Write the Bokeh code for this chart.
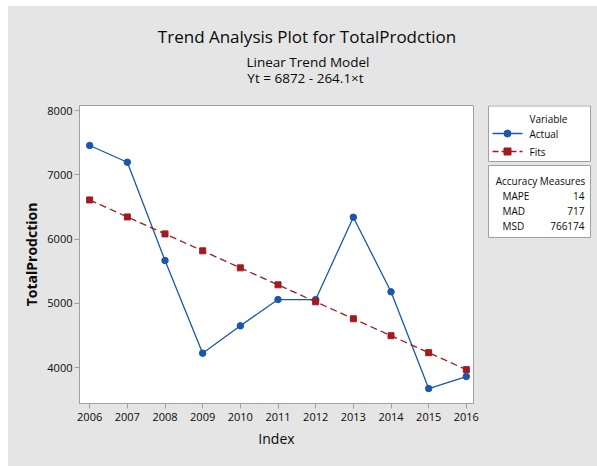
from bokeh.plotting import figure
from bokeh.layouts import column, row
from bokeh.models import FixedTicker, Range1d, ColumnDataSource, Spacer
from bokeh.core.properties import value
from bokeh.embed import file_html
from bokeh.resources import INLINE

# ---- data ----
years = [2006, 2007, 2008, 2009, 2010, 2011, 2012, 2013, 2014, 2015, 2016]
actual = [7455, 7195, 5665, 4223, 4649, 5058, 5058, 6339, 5178, 3673, 3860]
fits = [6608, 6344, 6080, 5816, 5551, 5287, 5023, 4759, 4495, 4231, 3967]
y_ticks = [4000, 5000, 6000, 7000, 8000]
title_text = "Trend Analysis Plot for TotalProdction"
subtitle_text = "Linear Trend Model"
equation_text = "Yt = 6872 - 264.1\u00d7t"
legend_title = "Variable"
series_names = ["Actual", "Fits"]
accuracy_title = "Accuracy Measures"
accuracy_names = ["MAPE", "MAD", "MSD"]
accuracy_values = ["14", "717", "766174"]

# ---- styles ----
FONT = "Open Sans"
BG = "#e4e5e4"
BLUE = "#1a57a8"
RED = "#a01b1f"
GREY = "#a0a0a0"
TXT = "#0a0a0a"

# picture layout (pixels)
LEFT_GAP, TOP_GAP = 8, 6
TITLE_BOTTOM = 100
TOTAL_W, TOTAL_H = 597, 466
SPLIT_X = 480
FL, FR, FT, FB = 79, 473, 105, 403


def canvas_fig(x0, x1, y0, y1, top=0, bottom=0):
    f = figure(width=x1 - x0, height=y1 - y0, output_backend="svg",
               toolbar_location=None, title=None,
               x_range=Range1d(x0, x1), y_range=Range1d(y1 - bottom, y0 + top),
               x_axis_type=None, y_axis_type=None,
               min_border=0, min_border_left=0, min_border_right=0,
               min_border_top=top, min_border_bottom=bottom)
    f.border_fill_color = BG
    f.background_fill_color = BG
    f.outline_line_color = None
    f.grid.visible = False
    return f


# ---- title strip ----
tf = canvas_fig(LEFT_GAP, TOTAL_W, TOP_GAP, TITLE_BOTTOM)
tf.text(x=[306.5], y=[35.5], text=[title_text], text_align="center",
        text_baseline="middle", text_font=value(FONT),
        text_font_size="17px", text_color=TXT)
tf.text(x=[307.5, 305], y=[61, 77.5], text=[subtitle_text, equation_text],
        text_align="center", text_baseline="middle", text_font=value(FONT),
        text_font_size="13.5px", text_color=TXT)

# ---- main plot ----
X0, X1 = 2005.73, 2016.19
Y0, Y1 = 3440, 8078
p = figure(width=SPLIT_X - LEFT_GAP, height=TOTAL_H - TITLE_BOTTOM,
           output_backend="svg", toolbar_location=None, title=None,
           x_range=Range1d(X0, X1), y_range=Range1d(Y0, Y1),
           min_border_left=FL - LEFT_GAP, min_border_right=SPLIT_X - FR,
           min_border_top=FT - TITLE_BOTTOM, min_border_bottom=TOTAL_H - FB)
p.border_fill_color = BG
p.background_fill_color = "white"
p.outline_line_color = GREY
p.grid.visible = False

p.xaxis.ticker = FixedTicker(ticks=years)
p.yaxis.ticker = FixedTicker(ticks=y_ticks)
for ax in (p.xaxis[0], p.yaxis[0]):
    ax.axis_line_color = GREY
    ax.major_tick_line_color = GREY
    ax.minor_tick_line_color = None
    ax.major_tick_in = 0
    ax.major_tick_out = 5
    ax.major_label_text_font = FONT
    ax.major_label_text_font_size = "11px"
    ax.major_label_text_color = TXT
    ax.axis_label_text_font = FONT
    ax.axis_label_text_color = TXT
p.xaxis.major_label_standoff = 4
p.yaxis.major_label_standoff = 2
p.xaxis.axis_label = "Index"
p.xaxis.axis_label_text_font_size = "14px"
p.xaxis.axis_label_text_font_style = "normal"
p.xaxis.axis_label_standoff = 5
p.yaxis.axis_label = "TotalProdction"
p.yaxis.axis_label_text_font_size = "14px"
p.yaxis.axis_label_text_font_style = "bold"
p.yaxis.axis_label_standoff = 3

src = ColumnDataSource(dict(year=years, actual=actual, fits=fits))
p.line("year", "actual", source=src, line_color=BLUE, line_width=1.3)
p.scatter("year", "actual", source=src, marker="circle", size=6.5,
          fill_color=BLUE, line_color=BLUE)
p.line("year", "fits", source=src, line_color=RED, line_width=1.3,
       line_dash="7 4")
p.scatter("year", "fits", source=src, marker="square", size=6,
          fill_color=RED, line_color=RED)

# ---- side legend panel (frame aligned with the main plot frame) ----
sf = canvas_fig(SPLIT_X, TOTAL_W, TITLE_BOTTOM, TOTAL_H,
                top=FT - TITLE_BOTTOM, bottom=TOTAL_H - FB)
sf.quad(left=[488, 488], right=[590, 590], top=[105.5, 165], bottom=[161, 237],
        fill_color="white", line_color=GREY, line_width=1)
sf.text(x=[529], y=[118], text=[legend_title], text_align="left",
        text_baseline="middle", text_font=value(FONT), text_font_size="10px",
        text_color=TXT)
leg_y = [133, 151]
sf.line(x=[492, 522], y=[leg_y[0]] * 2, line_color=BLUE, line_width=1.3)
sf.scatter(x=[507], y=[leg_y[0]], marker="circle", size=7, fill_color=BLUE,
           line_color=BLUE)
sf.line(x=[492, 522], y=[leg_y[1]] * 2, line_color=RED, line_width=1.3,
        line_dash="6 3")
sf.scatter(x=[507], y=[leg_y[1]], marker="square", size=7, fill_color=RED,
           line_color=RED)
sf.text(x=[529, 529], y=leg_y, text=series_names, text_align="left",
        text_baseline="middle", text_font=value(FONT), text_font_size="10px",
        text_color=TXT)
sf.text(x=[540], y=[180], text=[accuracy_title], text_align="center",
        text_baseline="middle", text_font=value(FONT), text_font_size="10px",
        text_color=TXT)
acc_y = [195, 210, 225]
sf.text(x=[502] * 3, y=acc_y, text=accuracy_names, text_align="left",
        text_baseline="middle", text_font=value(FONT), text_font_size="10px",
        text_color=TXT)
sf.text(x=[584] * 3, y=acc_y, text=accuracy_values, text_align="right",
        text_baseline="middle", text_font=value(FONT), text_font_size="10px",
        text_color=TXT)

bg = {"background-color": BG}
inner = column(tf, row(p, sf, spacing=0, styles=bg), spacing=0, styles=bg)
layout = column(Spacer(width=TOTAL_W, height=TOP_GAP),
                row(Spacer(width=LEFT_GAP, height=TOTAL_H - TOP_GAP), inner,
                    spacing=0),
                spacing=0)

open("out.html", "w").write(file_html(layout, INLINE))
